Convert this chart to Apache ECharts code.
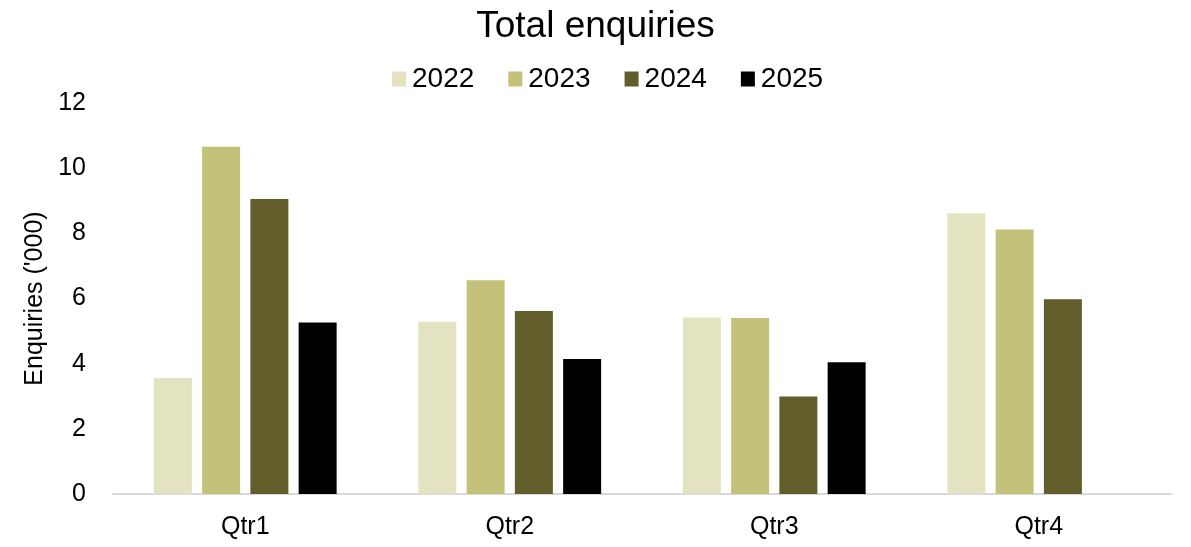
<!DOCTYPE html>
<html>
<head>
<meta charset="utf-8">
<script src="https://cdn.jsdelivr.net/npm/echarts@6/dist/echarts.min.js"></script>
<style>
  html, body { margin: 0; padding: 0; background: #fff; }
  #chart { width: 1191px; height: 547px; }
</style>
</head>
<body>
<div id="chart"></div>
<script>
var quarters = ['Qtr1', 'Qtr2', 'Qtr3', 'Qtr4'];
var years = ['2022', '2023', '2024', '2025'];
var colors = ['#e3e3c1', '#c4c27a', '#615e2b', '#000000'];

var v2022 = [3.56, 5.29, 5.42, 8.62];
var v2023 = [10.66, 6.56, 5.40, 8.12];
var v2024 = [9.05, 5.62, 2.99, 5.98];
var v2025 = [5.26, 4.14, 4.04, null];
var values = [v2022, v2023, v2024, v2025];

var font = 'Liberation Sans, Arial, sans-serif';

var chart = echarts.init(document.getElementById('chart'));

var series = years.map(function (y, i) {
  return {
    name: y,
    type: 'bar',
    data: values[i],
    barWidth: 38,
    barGap: '27%',
    itemStyle: { color: colors[i] }
  };
});

chart.setOption({
  animation: false,
  title: {
    text: 'Total enquiries',
    left: 'center',
    top: 3,
    textStyle: { fontFamily: font, fontSize: 37, fontWeight: 'normal', color: '#000' }
  },
  legend: {
    data: years,
    top: 60,
    left: 387,
    itemWidth: 14,
    itemHeight: 15,
    itemGap: 34,
    icon: 'rect',
    textStyle: { fontFamily: font, fontSize: 28, color: '#000', padding: [0, 0, 0, 1] }
  },
  color: colors,
  grid: { left: 113, right: 20, top: 103, bottom: 53 },
  xAxis: {
    type: 'category',
    data: quarters,
    axisLine: { lineStyle: { color: '#d9d9d9', width: 2 } },
    axisTick: { show: false },
    axisLabel: { fontFamily: font, fontSize: 25, color: '#000', margin: 21 }
  },
  yAxis: {
    type: 'value',
    min: 0,
    max: 12,
    interval: 2,
    name: "Enquiries ('000)",
    nameLocation: 'middle',
    nameGap: 61,
    nameTextStyle: { fontFamily: font, fontSize: 25, color: '#000' },
    splitLine: { show: false },
    axisLine: { show: false },
    axisTick: { show: false },
    axisLabel: { fontFamily: font, fontSize: 25, color: '#000', margin: 27 }
  },
  series: series
});
</script>
</body>
</html>
